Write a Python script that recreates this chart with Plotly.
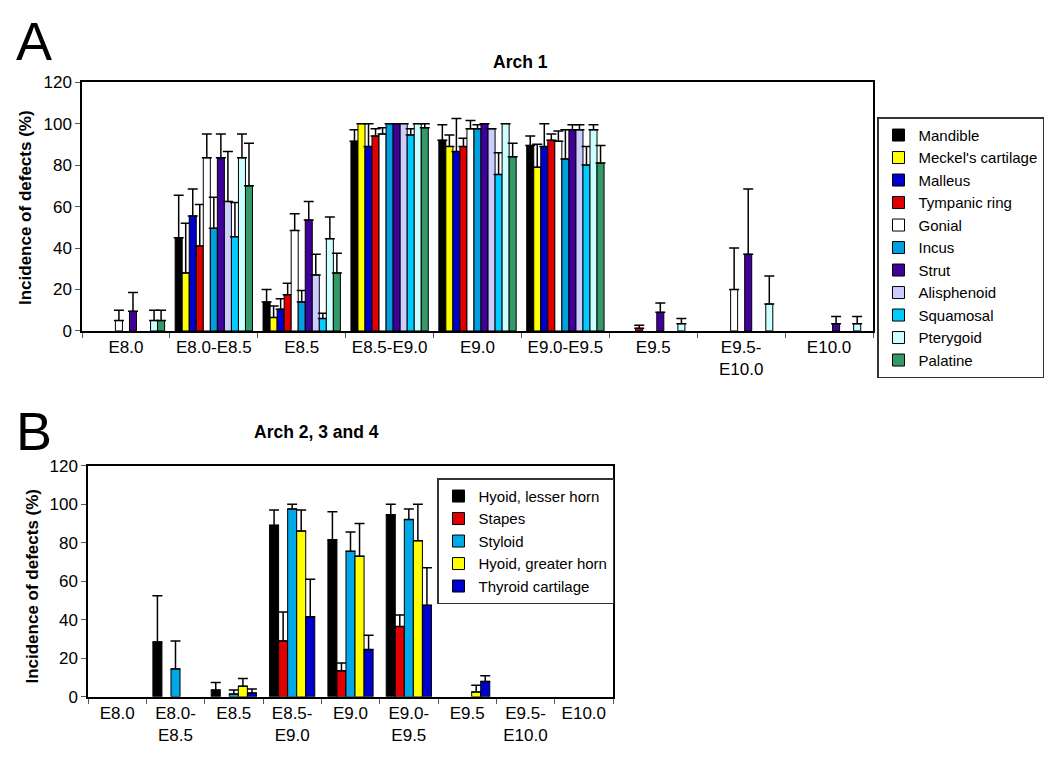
import plotly.graph_objects as go

# ---- Panel A: Arch 1 ----
stages_a = ["E8.0", "E8.0-E8.5", "E8.5", "E8.5-E9.0", "E9.0", "E9.0-E9.5",
            "E9.5", "E9.5-<br>E10.0", "E10.0"]

mandible = [0, 45, 14, 91.5, 92, 89.5, 0, 0, 0]
mandible_err = [0, 20.5, 6, 5.5, 7.5, 4.5, 0, 0, 0]
meckel = [0, 28, 6.5, 100, 89, 79, 0, 0, 0]
meckel_err = [0, 24, 5.5, 0, 5.5, 11, 0, 0, 0]
malleus = [0, 55.5, 10.5, 89, 86.5, 89, 0, 0, 0]
malleus_err = [0, 13, 5, 11, 16, 11, 0, 0, 0]
tympanic = [0, 41, 17.5, 94, 89, 92, 1.3, 0, 0]
tympanic_err = [0, 20, 5.5, 3.5, 4, 3, 1.4, 0, 0]
gonial = [5, 83.5, 48.5, 95, 97.5, 91.5, 0, 20, 0]
gonial_err = [5, 11.5, 8, 3, 4, 5, 0, 20, 0]
incus = [0, 49.5, 14, 100, 97.5, 83, 0, 0, 0]
incus_err = [0, 15, 5.5, 0, 2, 14, 0, 0, 0]
strut = [9.5, 83.5, 53.5, 100, 100, 97, 9, 37, 3.5]
strut_err = [9, 11.5, 9, 0, 0, 2.5, 4.5, 31.5, 3.5]
alisphenoid = [0, 62.5, 27, 100, 97.5, 97, 0, 0, 0]
alisphenoid_err = [0, 24, 10, 0, 0, 2.5, 0, 0, 0]
squamosal = [0, 45.5, 6, 94.5, 75.5, 80, 0, 0, 0]
squamosal_err = [0, 16.5, 2.5, 3, 10.5, 9, 0, 0, 0]
pterygoid = [5, 83.5, 44.5, 100, 100, 97, 3.5, 13, 3.5]
pterygoid_err = [5, 11.5, 10.5, 0, 0, 2.5, 2.5, 13.5, 3.5]
palatine = [5, 70, 28, 98, 84, 81, 0, 0, 0]
palatine_err = [5, 20.5, 9.5, 2, 6.5, 8.5, 0, 0, 0]

series_a = [
    ("Mandible", mandible, mandible_err, "#000000"),
    ("Meckel's cartilage", meckel, meckel_err, "#FFFF00"),
    ("Malleus", malleus, malleus_err, "#0000CC"),
    ("Tympanic ring", tympanic, tympanic_err, "#E00000"),
    ("Gonial", gonial, gonial_err, "#FFFFFF"),
    ("Incus", incus, incus_err, "#00A0E0"),
    ("Strut", strut, strut_err, "#40009A"),
    ("Alisphenoid", alisphenoid, alisphenoid_err, "#CCCCFF"),
    ("Squamosal", squamosal, squamosal_err, "#00CCFF"),
    ("Pterygoid", pterygoid, pterygoid_err, "#CCFFFF"),
    ("Palatine", palatine, palatine_err, "#339966"),
]

# ---- Panel B: Arch 2, 3 and 4 ----
stages_b = ["E8.0", "E8.0-<br>E8.5", "E8.5", "E8.5-<br>E9.0", "E9.0",
            "E9.0-<br>E9.5", "E9.5", "E9.5-<br>E10.0", "E10.0"]

lesser_horn = [0, 28.5, 3.5, 89, 81.5, 94.5, 0, 0, 0]
lesser_horn_err = [0, 24, 4, 8, 14.5, 5.5, 0, 0, 0]
stapes = [0, 0, 0, 29, 13.5, 36.5, 0, 0, 0]
stapes_err = [0, 0, 0, 15, 4, 6, 0, 0, 0]
styloid = [0, 14.5, 1.5, 97.5, 75.5, 92, 0, 0, 0]
styloid_err = [0, 14.5, 2, 2.5, 10, 5.5, 0, 0, 0]
greater_horn = [0, 0, 5.5, 86, 73, 81, 2.5, 0, 0]
greater_horn_err = [0, 0, 4, 11, 17, 19, 3.5, 0, 0]
thyroid = [0, 0, 2, 41.5, 24.5, 47.5, 8, 0, 0]
thyroid_err = [0, 0, 2, 19.5, 7.5, 19.5, 3, 0, 0]

series_b = [
    ("Hyoid, lesser horn", lesser_horn, lesser_horn_err, "#000000"),
    ("Stapes", stapes, stapes_err, "#E00000"),
    ("Styloid", styloid, styloid_err, "#00A8E8"),
    ("Hyoid, greater horn", greater_horn, greater_horn_err, "#FFFF00"),
    ("Thyroid cartilage", thyroid, thyroid_err, "#0000CC"),
]

FONT = "Arial, Liberation Sans, sans-serif"
W, H = 1050, 780

fig = go.Figure()


def add_panel(series, stages, xa, ya, legend, bw):
    n = len(series)
    start = -bw * n / 2
    for i, (name, vals, errs, col) in enumerate(series):
        y = [v if v > 0 else None for v in vals]
        fig.add_trace(go.Bar(
            x=stages, y=y, name=name, xaxis=xa, yaxis=ya, legend=legend,
            width=bw, offset=start + i * bw,
            marker=dict(color=col, line=dict(color="black", width=1)),
            error_y=dict(type="data", array=errs, arrayminus=[0] * len(errs),
                         symmetric=False, color="black", thickness=1.5, width=5),
        ))


add_panel(series_a, stages_a, "x", "y", "legend", 0.08)
add_panel(series_b, stages_b, "x2", "y2", "legend2", 0.155)

axis_common = dict(showline=True, linecolor="black", linewidth=1.5, mirror=True,
                   showgrid=False, zeroline=False, ticks="outside", ticklen=5,
                   tickcolor="#555555", tickfont=dict(family=FONT, size=17, color="black"))

fig.update_layout(
    width=W, height=H,
    margin=dict(l=0, r=0, t=0, b=0),
    paper_bgcolor="white", plot_bgcolor="white",
    barmode="overlay",
    font=dict(family=FONT, color="black"),
    xaxis=dict(domain=[82 / W, 873 / W], anchor="y", tickson="boundaries", **axis_common),
    yaxis=dict(domain=[1 - 330 / H, 1 - 75 / H], anchor="x", range=[0, 120],
               dtick=20, **axis_common),
    xaxis2=dict(domain=[88 / W, 613 / W], anchor="y2", tickson="boundaries", **axis_common),
    yaxis2=dict(domain=[1 - 705 / H, 1 - 468 / H], anchor="x2", range=[0, 120],
                dtick=20, **axis_common),
    legend=dict(x=877 / W, y=1 - 111 / H, xanchor="left", yanchor="top",
                bgcolor="white", bordercolor="#333333", borderwidth=1.5,
                font=dict(family=FONT, size=15, color="black"),
                itemwidth=30, tracegroupgap=0),
    legend2=dict(x=437 / W, y=1 - 481 / H, xanchor="left", yanchor="top",
                 bgcolor="white", bordercolor="#333333", borderwidth=1.5,
                 font=dict(family=FONT, size=15, color="black"),
                 itemwidth=30),
    annotations=[
        dict(text="A", x=14 / W, y=1 - 33 / H, xref="paper", yref="paper",
             xanchor="left", yanchor="middle", showarrow=False,
             font=dict(family=FONT, size=54, color="black")),
        dict(text="B", x=14 / W, y=1 - 433 / H, xref="paper", yref="paper",
             xanchor="left", yanchor="middle", showarrow=False,
             font=dict(family=FONT, size=54, color="black")),
        dict(text="<b>Arch 1</b>", x=520 / W, y=1 - 54 / H, xref="paper", yref="paper",
             xanchor="center", yanchor="middle", showarrow=False,
             font=dict(family=FONT, size=17.5, color="black")),
        dict(text="<b>Arch 2, 3 and 4</b>", x=316 / W, y=1 - 434 / H, xref="paper",
             yref="paper", xanchor="center", yanchor="middle", showarrow=False,
             font=dict(family=FONT, size=17.5, color="black")),
        dict(text="<b>Incidence of defects (%)</b>", x=25 / W, y=1 - 204 / H,
             xref="paper", yref="paper", xanchor="center", yanchor="middle",
             textangle=-90, showarrow=False,
             font=dict(family=FONT, size=17, color="black")),
        dict(text="<b>Incidence of defects (%)</b>", x=33 / W, y=1 - 592 / H,
             xref="paper", yref="paper", xanchor="center", yanchor="middle",
             textangle=-90, showarrow=False,
             font=dict(family=FONT, size=17, color="black")),
    ],
)

fig.write_html("out.html", config={"displayModeBar": False},
               post_script="document.body.style.margin='0px';")
